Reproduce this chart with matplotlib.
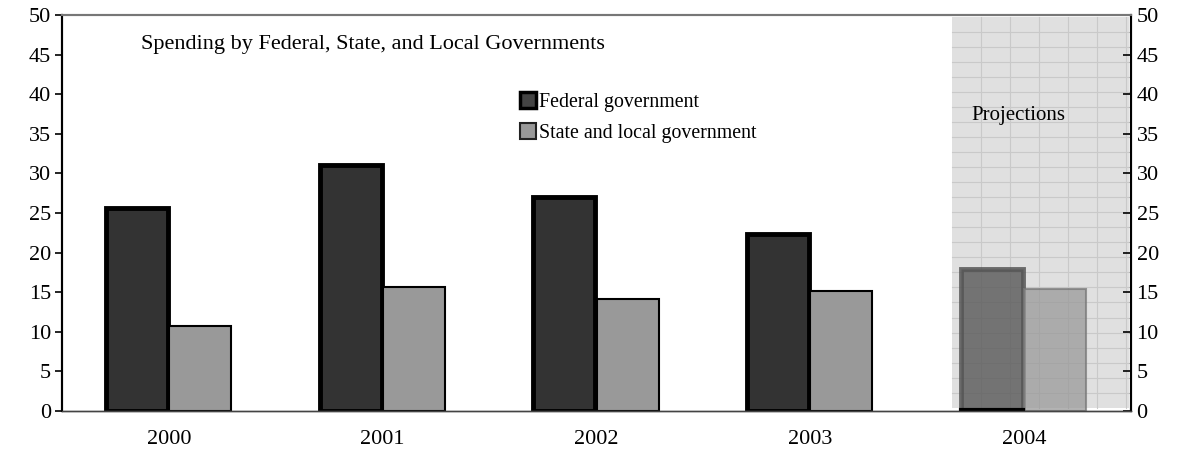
import matplotlib
matplotlib.use("Agg")
import matplotlib.pyplot as plt
import numpy as np
from matplotlib.lines import Line2D

years = ["2000", "2001", "2002", "2003", "2004"]
federal = [25.6, 31.0, 27.0, 22.3, 17.9]
state_local = [10.7, 15.7, 14.2, 15.2, 15.4]
yticks = [0, 5, 10, 15, 20, 25, 30, 35, 40, 45, 50]

plt.rcParams['font.family'] = ['Liberation Serif', 'DejaVu Serif']

fig = plt.figure(figsize=(11.77, 4.58), dpi=100)
ax = fig.add_axes([62/1177, 47/458, (1131-62)/1177, (411-15)/458])
ax.set_xlim(0, 5)
ax.set_ylim(0, 50)

# projection shaded region with grid
x0, x1 = 4.163, 4.99
ax.add_patch(plt.Rectangle((x0, 0.4), x1 - x0, 49.3, facecolor='#e0e0e0', edgecolor='none', zorder=0))
for xv in np.arange(x0 + 0.135, x1, 0.136):
    ax.plot([xv, xv], [0.4, 49.7], color='#c9c9c9', lw=0.8, zorder=0.5)
for yv in np.arange(2.3, 49.7, 1.9):
    ax.plot([x0, x1], [yv, yv], color='#c9c9c9', lw=0.8, zorder=0.5)

centers = np.arange(len(years)) + 0.5
w = 0.29
for i, c in enumerate(centers):
    proj = (i == len(years) - 1)
    if proj:
        ax.bar(c - w/2 - 0.005, federal[i], width=w, color='#606060', edgecolor='#555555', lw=3.5, alpha=0.85, zorder=2)
        ax.bar(c + w/2, state_local[i], width=w, color='#9a9a9a', edgecolor='#777777', lw=1.5, alpha=0.75, zorder=2)
        ax.plot([c - w - 0.005, c - 0.005], [0.15, 0.15], color='black', lw=3, zorder=3)
    else:
        ax.bar(c - w/2 - 0.005, federal[i], width=w, color='#333333', edgecolor='black', lw=3.5, zorder=2)
        ax.bar(c + w/2, state_local[i], width=w, color='#999999', edgecolor='black', lw=1.5, zorder=2)

ax.set_xticks(centers)
ax.set_xticklabels(years, fontsize=16)
ax.tick_params(axis='x', length=0, pad=14)
ax.set_yticks(yticks)
ax.tick_params(axis='y', direction='out', length=5, width=1.2, labelsize=16, pad=3)

ax2 = ax.twinx()
ax2.set_ylim(0, 50)
ax2.set_yticks(yticks)
ax2.tick_params(axis='y', direction='in', length=6, width=1.2, labelsize=16, pad=4)

for a in (ax, ax2):
    a.spines['top'].set_color('#777777')
    a.spines['top'].set_linewidth(1.5)
    a.spines['left'].set_linewidth(1.5)
    a.spines['right'].set_linewidth(1.5)
    a.spines['bottom'].set_linewidth(1.0)
    a.spines['bottom'].set_color('#444444')

ax.text(0.37, 46.3, "Spending by Federal, State, and Local Governments", fontsize=16, va='center')
ax.text(4.255, 37.3, "Projections", fontsize=15, va='center')

handles = [
    Line2D([], [], marker='s', ls='none', markersize=11, markerfacecolor='#444444', markeredgecolor='black', markeredgewidth=2.5),
    Line2D([], [], marker='s', ls='none', markersize=11, markerfacecolor='#999999', markeredgecolor='#222222', markeredgewidth=1.5),
]
ax.legend(handles, ["Federal government", "State and local government"], loc='upper left',
          bbox_to_anchor=(0.415, 0.832), frameon=False, fontsize=14.3, handletextpad=0.0,
          labelspacing=0.6, handlelength=1.1, borderaxespad=0.2)

fig.savefig("out.png", dpi=100)
